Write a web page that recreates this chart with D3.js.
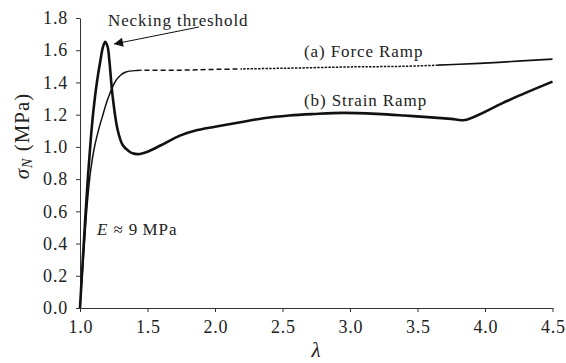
<!DOCTYPE html>
<html>
<head>
<meta charset="utf-8">
<script src="https://cdn.jsdelivr.net/npm/d3@7"></script>
<style>
  body { margin: 0; background: #fff; }
  svg text { font-family: "Liberation Serif", "DejaVu Serif", serif; fill: #222; }
</style>
</head>
<body>
<svg id="chart" width="566" height="363"></svg>
<script>
// data
// (a) force ramp: stretch ratio and nominal stress (MPa)
let forceLambda = [1.0, 1.03, 1.055, 1.08, 1.105, 1.139, 1.17, 1.205, 1.261, 1.30, 1.34, 1.42, 1.50, 1.74, 2.0, 2.5, 3.05, 3.39, 3.81, 4.1, 4.5];
let forceStress = [0.0, 0.37, 0.66, 0.86, 0.99, 1.11, 1.20, 1.295, 1.405, 1.445, 1.465, 1.474, 1.475, 1.476, 1.481, 1.488, 1.497, 1.500, 1.513, 1.525, 1.545];

// (b) strain ramp
let strainLambda = [1.0, 1.02, 1.04, 1.06, 1.08, 1.10, 1.125, 1.15, 1.17, 1.187, 1.205, 1.217, 1.242, 1.279, 1.316, 1.36, 1.39, 1.43, 1.5, 1.6, 1.74, 1.85, 2.0, 2.2, 2.36, 2.55, 2.73, 2.95, 3.2, 3.4, 3.6, 3.75, 3.85, 4.13, 4.3, 4.5];
let strainStress = [0.0, 0.29, 0.57, 0.83, 1.05, 1.23, 1.40, 1.53, 1.62, 1.653, 1.62, 1.54, 1.312, 1.105, 1.012, 0.975, 0.96, 0.955, 0.97, 1.01, 1.07, 1.10, 1.125, 1.155, 1.178, 1.195, 1.204, 1.211, 1.205, 1.195, 1.183, 1.174, 1.167, 1.272, 1.335, 1.405];

// where the force ramp line style changes (solid -> dashed -> dotted -> solid)
let forceBreaks = [1.0, 1.45, 2.2, 3.65, 4.5];
let forceDashes = [null, '5,3', '2.4,1.3', null];

let xTicks = [1.0, 1.5, 2.0, 2.5, 3.0, 3.5, 4.0, 4.5];
let yTicks = [0.0, 0.2, 0.4, 0.6, 0.8, 1.0, 1.2, 1.4, 1.6, 1.8];

const svg = d3.select('#chart');
const x = d3.scaleLinear().domain([1.0, 4.5]).range([80, 552.5]);
const y = d3.scaleLinear().domain([0, 1.8]).range([308, 18]);

// axes (left and bottom only)
const xAxis = svg.append('g')
    .attr('transform', 'translate(0,308)')
    .call(d3.axisBottom(x).tickValues(xTicks).tickSize(4).tickSizeOuter(0).tickPadding(8).tickFormat(d3.format('.1f')));
const yAxis = svg.append('g')
    .attr('transform', 'translate(80,0)')
    .call(d3.axisLeft(y).tickValues(yTicks).tickSize(4).tickSizeOuter(0).tickPadding(8).tickFormat(d3.format('.1f')));
[xAxis, yAxis].forEach(a => {
    a.selectAll('path, line').attr('stroke', '#333').attr('stroke-width', 1);
    a.selectAll('text').attr('font-size', 18).attr('fill', '#222')
        .style('font-family', '"Liberation Serif", serif')
        .style('letter-spacing', '0.8px');
});
xAxis.selectAll('text').attr('dx', '0.4px');

// force ramp, split into pieces with different dash styles
const forceLine = d3.line().x(d => x(d[0])).y(d => y(d[1])).curve(d3.curveCatmullRom.alpha(0.5));
const forcePts = forceLambda.map((l, i) => [l, forceStress[i]]);
const defs = svg.append('defs');
for (let k = 0; k < forceBreaks.length - 1; k++) {
    const lo = forceBreaks[k], hi = forceBreaks[k + 1];
    defs.append('clipPath').attr('id', `clip${k}`)
        .append('rect')
        .attr('x', x(lo) - (k === 0 ? 5 : 0))
        .attr('y', 0)
        .attr('width', x(hi) - x(lo) + (k === 0 ? 5 : 0) + (k === 3 ? 3 : 0))
        .attr('height', 363);
    svg.append('path')
        .datum(forcePts)
        .attr('fill', 'none')
        .attr('stroke', '#111')
        .attr('stroke-width', k === 3 ? 1.7 : 1.5)
        .attr('stroke-dasharray', forceDashes[k])
        .attr('clip-path', `url(#clip${k})`)
        .attr('d', forceLine);
}

// strain ramp
svg.append('path')
    .datum(strainLambda.map((l, i) => [l, strainStress[i]]))
    .attr('fill', 'none')
    .attr('stroke', '#111')
    .attr('stroke-width', 2.6)
    .attr('stroke-linejoin', 'round')
    .attr('d', d3.line().x(d => x(d[0])).y(d => y(d[1])).curve(d3.curveCatmullRom.alpha(0.5)));

// annotations
const note = (sel) => sel.attr('font-size', 17).style('letter-spacing', '0.9px');
svg.append('text').attr('x', 304).attr('y', 57).call(note).text('(a) Force Ramp');
svg.append('text').attr('x', 304).attr('y', 106).call(note).text('(b) Strain Ramp');
svg.append('text').attr('x', 108).attr('y', 26).call(note).text('Necking threshold');

const eLabel = svg.append('text').attr('x', 97).attr('y', 235).call(note);
eLabel.append('tspan').attr('font-style', 'italic').text('E');
eLabel.append('tspan').text(' ≈ 9\u2009MPa');

// arrow pointing at the necking peak
defs.append('marker')
    .attr('id', 'head')
    .attr('viewBox', '0 0 10 10')
    .attr('refX', 10).attr('refY', 5)
    .attr('markerWidth', 17).attr('markerHeight', 9)
    .attr('markerUnits', 'userSpaceOnUse')
    .attr('orient', 'auto')
    .append('path').attr('d', 'M0,0 L10,5 L0,10 Z').attr('fill', '#111');
svg.append('line')
    .attr('x1', 199).attr('y1', 27)
    .attr('x2', 114).attr('y2', 44)
    .attr('stroke', '#111').attr('stroke-width', 1)
    .attr('marker-end', 'url(#head)');

// axis titles
const yTitle = svg.append('text')
    .attr('transform', 'translate(29,136) rotate(-90)')
    .attr('text-anchor', 'middle')
    .attr('font-size', 21)
    .style('letter-spacing', '1px');
yTitle.append('tspan').attr('font-style', 'italic').text('σ');
yTitle.append('tspan').attr('font-style', 'italic').attr('font-size', 14).attr('dy', 3).text('N');
yTitle.append('tspan').attr('dy', -3).text(' (MPa)');

svg.append('text')
    .attr('x', 316).attr('y', 357)
    .attr('text-anchor', 'middle')
    .attr('font-size', 21)
    .attr('font-style', 'italic')
    .text('λ');
</script>
</body>
</html>
